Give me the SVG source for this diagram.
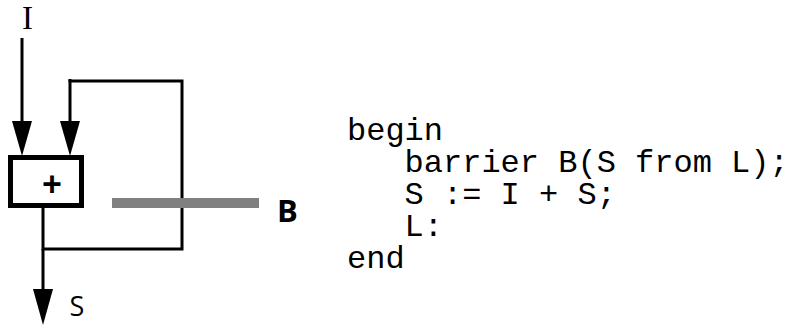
<svg xmlns="http://www.w3.org/2000/svg" width="788" height="326" viewBox="0 0 788 326">
  <style>
    .wire { fill: none; stroke: #000; stroke-width: 3; }
    .head { fill: #000; }
    .code { font-family: "Liberation Mono", "Courier New", monospace; font-size: 32px; fill: #000; }
    .sans { font-family: "Open Sans", "DejaVu Sans", sans-serif; fill: #000; }
  </style>
  <rect width="788" height="326" fill="#fff"/>

  <!-- connectors -->
  <g id="connectors">
    <!-- input I into the adder -->
    <line class="wire" x1="22" y1="38" x2="22" y2="123"/>
    <polygon class="head" points="12,121 32,121 22,156"/>
    <!-- feedback loop: output back to second adder input -->
    <polyline class="wire" points="43,208 43,249 182,249 182,81 70,81 70,123"/>
    <line class="wire" x1="70" y1="79" x2="70" y2="82"/>
    <polygon class="head" points="60,121 80,121 70,156"/>
    <!-- output S -->
    <line class="wire" x1="43" y1="249" x2="43" y2="291"/>
    <polygon class="head" points="33,289 53,289 43,325"/>
  </g>

  <!-- adder node -->
  <g id="adder">
    <rect x="10.5" y="157.5" width="71" height="48" fill="#fff" stroke="#000" stroke-width="5"/>
    <text class="sans" x="52" y="197" font-size="35" font-weight="700" text-anchor="middle">+</text>
  </g>

  <!-- barrier B -->
  <g id="barrier">
    <rect x="112" y="198" width="147" height="10" fill="#808080"/>
    <text class="sans" x="287.5" y="222" font-size="31" font-weight="700" text-anchor="middle">B</text>
  </g>

  <!-- port labels -->
  <g id="label-I">
    <text x="27.5" y="29" font-family="Liberation Serif, 'Times New Roman', serif" font-size="33" text-anchor="middle">I</text>
  </g>
  <g id="label-S">
    <text class="sans" x="77" y="316" font-size="27" text-anchor="middle">S</text>
  </g>

  <!-- program text -->
  <g id="program">
    <text class="code" x="347" y="140">begin</text>
    <text class="code" x="404.6" y="172">barrier B(S from L);</text>
    <text class="code" x="404.6" y="204">S := I + S;</text>
    <text class="code" x="404.6" y="236">L:</text>
    <text class="code" x="347" y="268">end</text>
  </g>
</svg>
